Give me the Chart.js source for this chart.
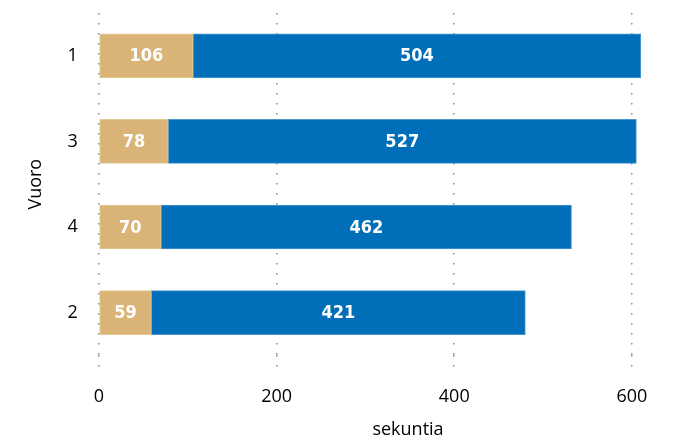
<!DOCTYPE html>
<html>
<head>
<meta charset="utf-8">
<script src="https://cdn.jsdelivr.net/npm/chart.js@4"></script>
<style>
  html, body { margin: 0; padding: 0; background: #fff; }
  #wrap { width: 679px; height: 443px; }
</style>
</head>
<body>
<div id="wrap"><canvas id="myChart"></canvas></div>
<script>
const vuorot = ['1', '3', '4', '2'];
const odotus = [106, 78, 70, 59];
const kesto = [504, 527, 462, 421];
const xTicks = [0, 200, 400, 600];

const tickFont = { family: "'Open Sans', 'Noto Sans', sans-serif", size: 18 };

// white value labels in the middle of each bar piece
const barLabels = {
  id: 'barLabels',
  afterDatasetsDraw(chart) {
    const c = chart.ctx;
    c.save();
    c.fillStyle = '#fff';
    c.font = "bold 18px 'DejaVu Sans Condensed', 'Roboto', sans-serif";
    c.textAlign = 'center';
    c.textBaseline = 'middle';
    chart.data.datasets.forEach((ds, i) => {
      chart.getDatasetMeta(i).data.forEach((bar, j) => {
        const p = bar.getProps(['x', 'y', 'base'], true);
        c.fillText(ds.data[j], (p.x + p.base) / 2, p.y + 1);
      });
    });
    c.restore();
  }
};

// x axis title, placed like in the original
const xTitle = {
  id: 'xTitle',
  afterDraw(chart) {
    const c = chart.ctx;
    c.save();
    c.fillStyle = '#000';
    c.font = "18px 'Open Sans', 'Noto Sans', sans-serif";
    c.textAlign = 'center';
    c.textBaseline = 'middle';
    c.fillText('sekuntia', 408, 430);
    c.restore();
  }
};

new Chart(document.getElementById('myChart'), {
  type: 'bar',
  data: {
    labels: vuorot,
    datasets: [{
      label: 'odotus',
      data: odotus,
      backgroundColor: '#D9B476',
      borderColor: '#E4C898',
      borderWidth: 1,
      borderSkipped: false,
      barThickness: 44
    }, {
      label: 'kesto',
      data: kesto,
      backgroundColor: '#006EB8',
      borderColor: '#4A97CF',
      borderWidth: 1,
      borderSkipped: false,
      barThickness: 44
    }]
  },
  options: {
    indexAxis: 'y',
    responsive: true,
    maintainAspectRatio: false,
    animation: false,
    layout: { padding: { top: 13, right: 0, bottom: 22, left: 25 } },
    plugins: {
      legend: { display: false },
      tooltip: { enabled: false }
    },
    scales: {
      x: {
        stacked: true,
        min: 0,
        max: 653,
        afterBuildTicks(axis) {
          axis.ticks = xTicks.map(v => ({ value: v }));
        },
        border: { display: false, dash: [1.5, 8.5] },
        grid: {
          color: '#8a8a8a',
          lineWidth: 1.5,
          drawTicks: true,
          tickLength: 18,
          tickColor: '#8a8a8a',
          tickWidth: 1.5,
          tickBorderDash: [1.5, 8.5]
        },
        ticks: { color: '#000', font: tickFont, padding: 13, maxRotation: 0 }
      },
      y: {
        stacked: true,
        border: { display: false },
        grid: { display: false, drawTicks: false },
        ticks: { color: '#000', font: tickFont, padding: 21 },
        title: {
          display: true,
          text: 'Vuoro',
          color: '#000',
          font: tickFont,
          padding: 0
        },
        afterFit(axis) {
          axis.paddingTop = 0;
          axis.paddingBottom = 0;
        }
      }
    }
  },
  plugins: [barLabels, xTitle]
});
</script>
</body>
</html>
